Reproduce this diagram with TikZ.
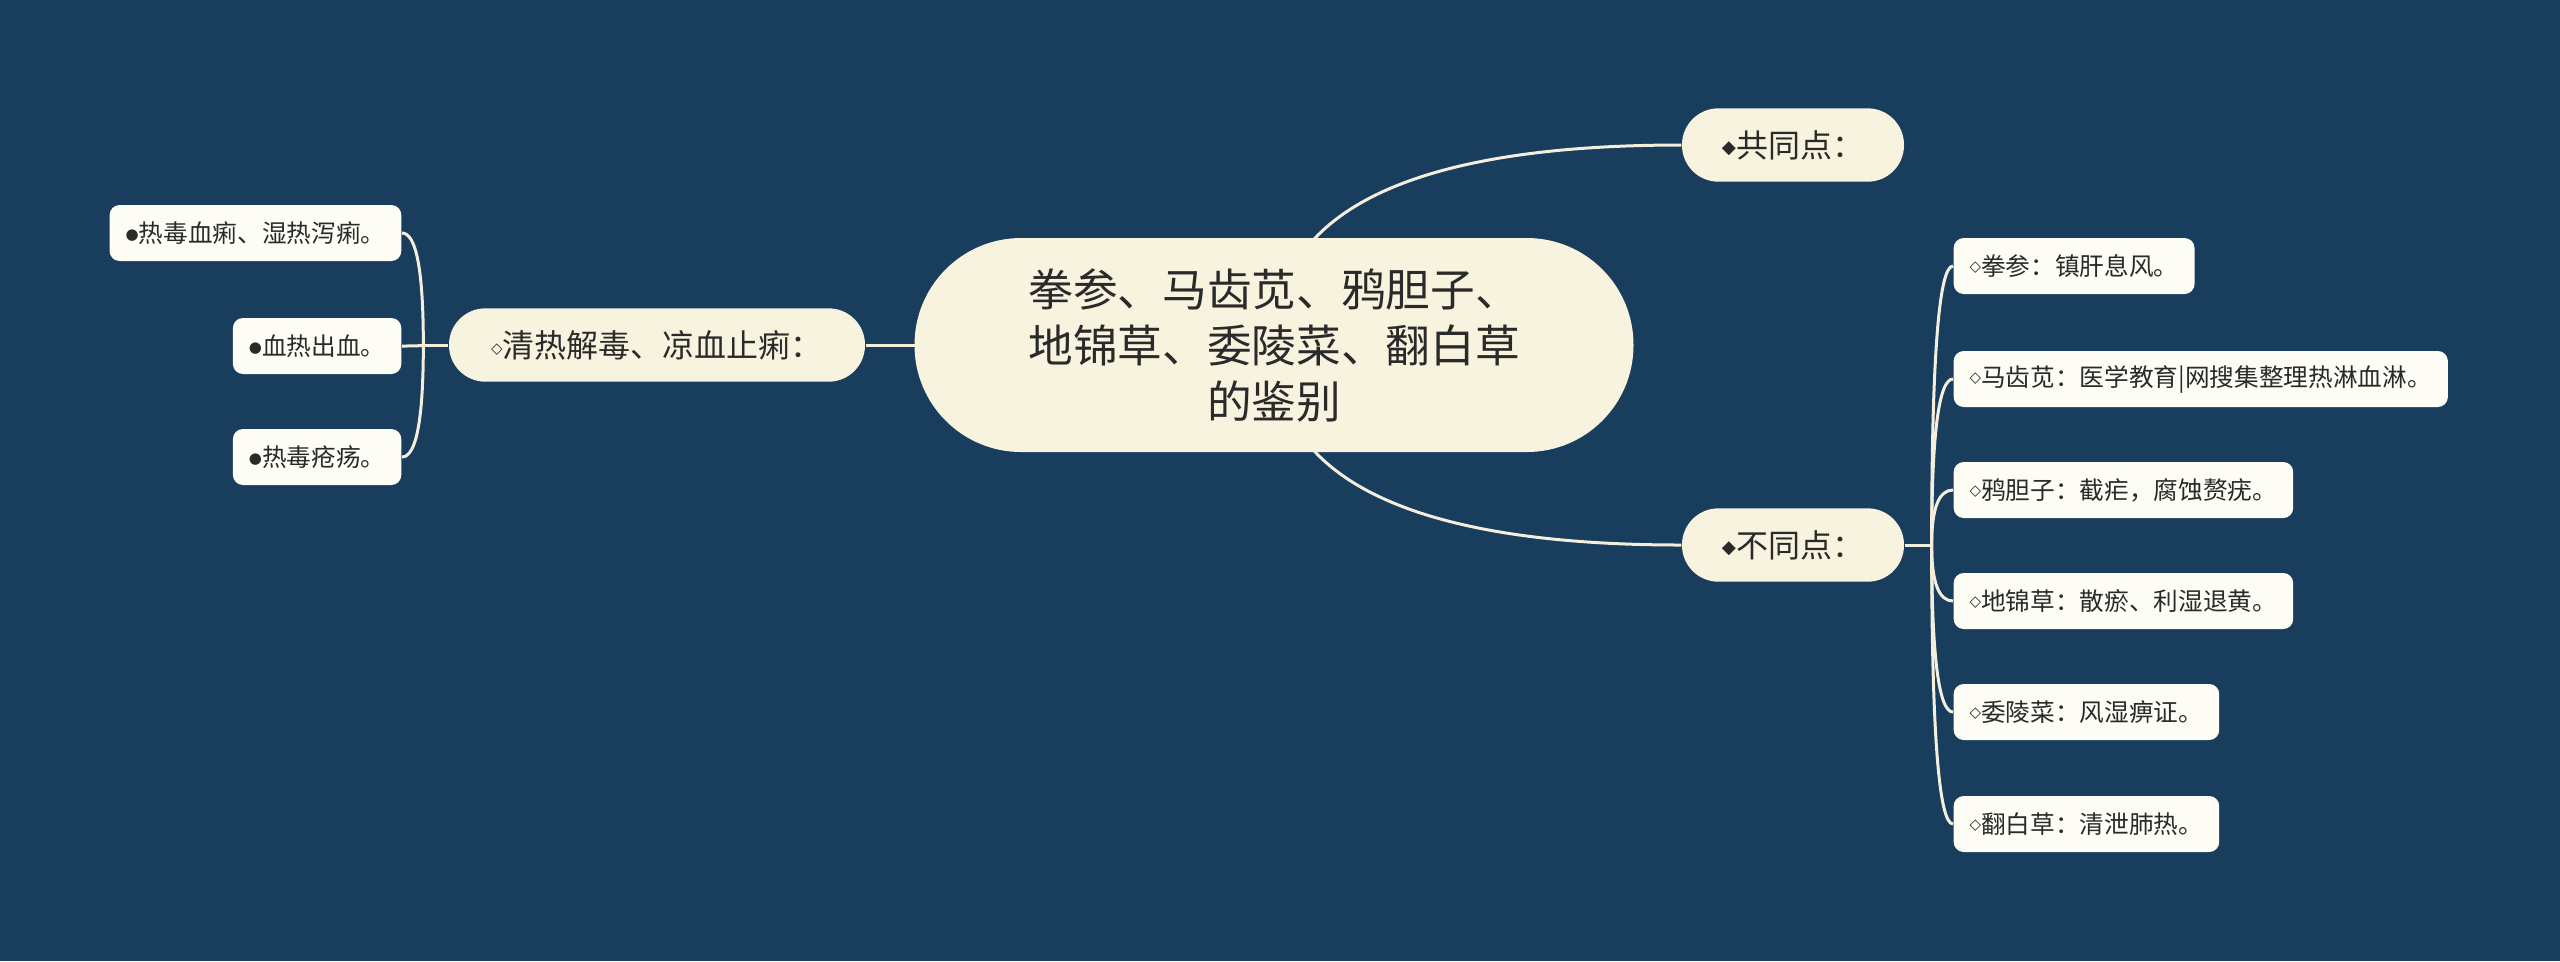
\documentclass[tikz,border=0pt]{standalone}
\usepackage{fontspec}
\setmainfont{Noto Sans CJK SC}
\newfontfamily\dvfont{DejaVu Sans}
\usetikzlibrary{calc}
\definecolor{bgnavy}{HTML}{183D5D}
\definecolor{creamfill}{HTML}{F8F3DF}
\definecolor{leaffill}{HTML}{FDFCF5}
\definecolor{inkgray}{HTML}{2A2A2A}
\definecolor{linkcream}{HTML}{F3EFDC}
\pgfdeclarelayer{back}
\pgfsetlayers{back,main}
\newcommand{\dmfull}{\raisebox{1.1pt}{\dvfont\fontsize{5.5}{6}\selectfont ◆}}
\newcommand{\dmopen}{\raisebox{1.2pt}{\dvfont\fontsize{4.5}{5}\selectfont ◇}}
\newcommand{\dmdot}{\raisebox{0.8pt}{\dvfont\fontsize{4.5}{5}\selectfont ●}}
\begin{document}
\begin{tikzpicture}[x=0.3pt, y=-0.3pt, line cap=round,
	every node/.style={text=inkgray, inner ysep=0pt},
	rootbox/.style={rectangle, rounded corners=32pt, fill=creamfill, minimum width=215.7pt, minimum height=64.2pt, align=center, font=\fontsize{13.4}{16.8}\selectfont},
	topicbox/.style={rectangle, rounded corners=10.9pt, fill=creamfill, minimum height=22pt, font=\fontsize{9.6}{11}\selectfont},
	leafbox/.style={rectangle, rounded corners=3pt, fill=leaffill, minimum height=16.8pt, inner xsep=4.8pt, font=\fontsize{7.4}{9}\selectfont},
	link/.style={draw=linkcream, line width=0.9pt},
	elbowcurve/.style={to path={.. controls ($(\tikztostart)!0.667!(\tikztostart |- \tikztotarget)$) and ($(\tikztotarget)!0.667!(\tikztostart |- \tikztotarget)$) .. (\tikztotarget)}}]
	\useasboundingbox (0,0) rectangle (2560,961);
	\node[rootbox] (root) at (1274,345) {拳参、马齿苋、鸦胆子、\\地锦草、委陵菜、翻白草\\的鉴别};
	\node[topicbox, minimum width=66.6pt] (same) at (1793,145) {\dmfull 共同点：};
	\node[topicbox, minimum width=66.6pt] (diff) at (1793,545) {\dmfull 不同点：};
	\node[topicbox, minimum width=124.8pt] (heat) at (657,345) {\dmopen 清热解毒、凉血止痢：};
	\node[leafbox, anchor=east] (h1) at (402,233) {\dmdot 热毒血痢、湿热泻痢。};
	\node[leafbox, anchor=east] (h2) at (402,346) {\dmdot 血热出血。};
	\node[leafbox, anchor=east] (h3) at (402,457) {\dmdot 热毒疮疡。};
	\node[leafbox, anchor=west] (d1) at (1953,266) {\dmopen 拳参：镇肝息风。};
	\node[leafbox, anchor=west] (d2) at (1953,379) {\dmopen 马齿苋：医学教育|网搜集整理热淋血淋。};
	\node[leafbox, anchor=west] (d3) at (1953,490) {\dmopen 鸦胆子：截疟，腐蚀赘疣。};
	\node[leafbox, anchor=west] (d4) at (1953,601) {\dmopen 地锦草：散瘀、利湿退黄。};
	\node[leafbox, anchor=west] (d5) at (1953,712) {\dmopen 委陵菜：风湿痹证。};
	\node[leafbox, anchor=west] (d6) at (1953,824) {\dmopen 翻白草：清泄肺热。};
	\begin{pgfonlayer}{back}
		\fill[bgnavy] (0,0) rectangle (2560,961);
		\draw[link] (root.center) to[elbowcurve] (same.west);
		\draw[link] (root.center) to[elbowcurve] (diff.west);
		\draw[link] (root.center) -- (heat.east);
		\path (heat.west) ++(-25,0) coordinate (hj);
		\draw[link] (heat.west) -- (hj);
		\foreach \leaf in {h1,h2,h3}
			\draw[link] (hj) to[elbowcurve] (\leaf.east);
		\path (diff.east) ++(27,0) coordinate (dj);
		\draw[link] (diff.east) -- (dj);
		\foreach \leaf in {d1,d2,d3,d4,d5,d6}
			\draw[link] (dj) to[elbowcurve] (\leaf.west);
	\end{pgfonlayer}
\end{tikzpicture}
\end{document}
